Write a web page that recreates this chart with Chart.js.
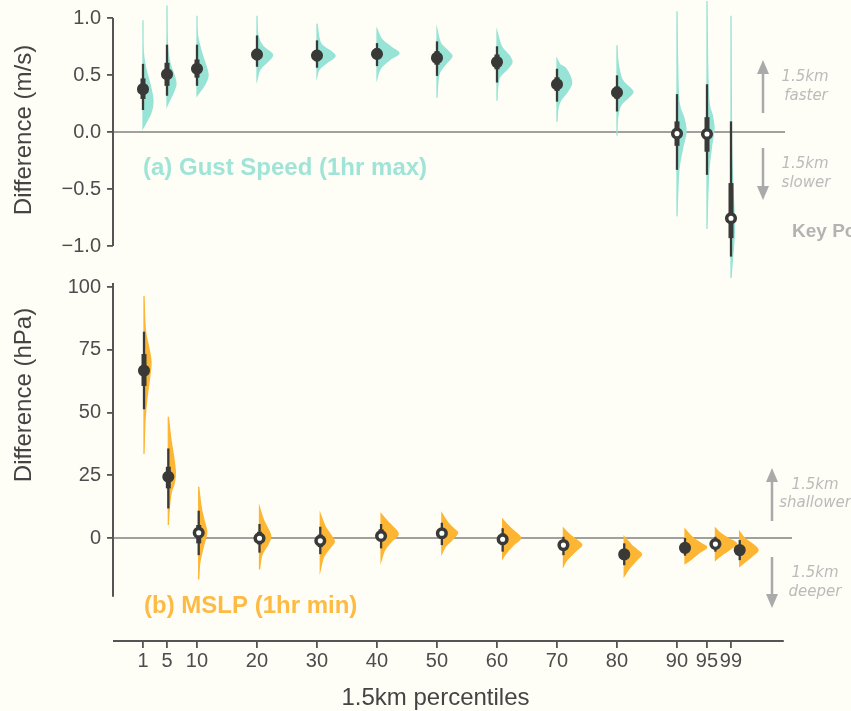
<!DOCTYPE html>
<html>
<head>
<meta charset="utf-8">
<script src="https://cdn.jsdelivr.net/npm/chart.js@4.4.1/dist/chart.umd.min.js"></script>
<style>
  html, body { margin: 0; padding: 0; background: #fefef6; }
  #wrap { position: relative; width: 851px; height: 711px; overflow: hidden; }
  #wrap canvas { position: absolute; left: 0; top: 0; }
</style>
</head>
<body>
<div id="wrap">
  <canvas id="gustChart" width="851" height="711"></canvas>
  <canvas id="mslpChart" width="851" height="711"></canvas>
</div>
<script>
// ---------------- datos ----------------
const percentiles = [1, 5, 10, 20, 30, 40, 50, 60, 70, 80, 90, 95, 99];
const gustTicks = [-1, -0.5, 0, 0.5, 1];
const mslpTicks = [0, 25, 50, 75, 100];

// (a) Gust speed: punto, intervalo 66% y 95%, significativo o no
const gustMid = [0.376, 0.506, 0.555, 0.679, 0.671, 0.685, 0.65, 0.613, 0.419, 0.347, -0.014, -0.017, -0.757];
const gustInner = [[0.29, 0.47], [0.405, 0.607], [0.477, 0.636], [0.63, 0.73], [0.62, 0.72], [0.64, 0.73], [0.59, 0.71],
  [0.55, 0.68], [0.36, 0.48], [0.29, 0.40], [-0.121, 0.093], [-0.173, 0.13], [-0.931, -0.448]];
const gustOuter = [[0.193, 0.598], [0.318, 0.766], [0.405, 0.766], [0.572, 0.847], [0.564, 0.804], [0.578, 0.78], [0.492, 0.795],
  [0.434, 0.752], [0.266, 0.555], [0.18, 0.497], [-0.332, 0.332], [-0.376, 0.419], [-1.093, 0.093]];
const gustSignificant = [1, 1, 1, 1, 1, 1, 1, 1, 1, 1, 0, 0, 0];
// densidad (valor, densidad relativa)
const gustDensity = [
  [[0.98, 0], [0.70, 0.3], [0.55, 3], [0.40, 7.5], [0.27, 10], [0.17, 8], [0.10, 4], [0.035, 0]],
  [[1.11, 0], [0.75, 0.5], [0.60, 3], [0.50, 7], [0.42, 9], [0.34, 6], [0.27, 2], [0.23, 0]],
  [[1.02, 0], [0.85, 0.5], [0.70, 4.5], [0.55, 10], [0.49, 11], [0.42, 8], [0.35, 2.5], [0.32, 0]],
  [[1.02, 0], [0.84, 1], [0.75, 6], [0.68, 15.5], [0.62, 11], [0.55, 3], [0.46, 0]],
  [[0.95, 0], [0.78, 3.5], [0.71, 13.5], [0.665, 18], [0.61, 10], [0.55, 2], [0.49, 0]],
  [[0.90, 0], [0.81, 5], [0.74, 15], [0.69, 22], [0.64, 13.5], [0.56, 3.5], [0.47, 0]],
  [[0.90, 0], [0.78, 3.5], [0.71, 11], [0.665, 15], [0.61, 10], [0.52, 2.5], [0.40, 0.5], [0.30, 0]],
  [[0.88, 0], [0.75, 4.5], [0.665, 12.5], [0.61, 15], [0.55, 10], [0.48, 2.5], [0.38, 0.5], [0.275, 0]],
  [[0.64, 0], [0.59, 3], [0.56, 8.5], [0.48, 13.5], [0.42, 14.5], [0.35, 10], [0.275, 3.5], [0.20, 0.8], [0.09, 0]],
  [[0.76, 0], [0.61, 1], [0.46, 5], [0.39, 12.5], [0.35, 16], [0.30, 11], [0.23, 3.5], [0.12, 0.5], [-0.03, 0]],
  [[1.06, 0], [0.60, 0.6], [0.26, 2], [0.12, 7], [0.0, 9], [-0.145, 5.5], [-0.32, 2], [-0.55, 0.6], [-0.74, 0]],
  [[1.15, 0], [0.60, 0.6], [0.26, 2], [0.145, 5.3], [0.03, 7], [-0.115, 4.7], [-0.32, 2], [-0.60, 0.6], [-0.85, 0]],
  [[1.02, 0], [0.0, 0.5], [-0.4, 1.5], [-0.6, 2.5], [-0.8, 3.5], [-0.95, 3], [-1.1, 1.5], [-1.28, 0]]
];

// (b) MSLP
const mslpMid = [66.7, 24.4, 2.1, -0.1, -1.1, 0.8, 1.9, -0.5, -2.8, -6.5, -3.9, -2.4, -4.8];
const mslpInner = [[60.6, 73.3], [19.8, 28.4], [-2.1, 5.2], [-2.5, 2.5], [-3.6, 1.4], [-1.2, 3.5], [-0.2, 4],
  [-2.8, 1.8], [-4.6, -1], [-8.5, -4.5], [-5.8, -2], [-4, -0.8], [-6.6, -3]];
const mslpOuter = [[51.3, 82.2], [11.8, 35.7], [-6.8, 10.9], [-5.8, 5.6], [-6.4, 4.5], [-4.1, 5.6], [-2.8, 6.1],
  [-5.4, 3.9], [-6.8, 0.5], [-10.8, -2.1], [-7, 0], [-5.4, 0.5], [-8.8, -0.8]];
const mslpSignificant = [1, 1, 0, 0, 0, 0, 0, 0, 0, 1, 1, 0, 1];
const mslpDensity = [
  [[96.4, 0], [83, 1.3], [76, 4.7], [70, 7], [63, 5.3], [56, 3], [47, 1], [33.5, 0]],
  [[48.3, 0], [39, 2.7], [32.4, 5.3], [26.4, 7], [22, 6], [17.8, 2.7], [11, 0.8], [5.2, 0]],
  [[20.4, 0], [15, 1.5], [11, 3], [6, 6], [2, 8], [-3.5, 4.5], [-10, 1], [-16.5, 0]],
  [[12.2, 0], [7.2, 4], [3.2, 9], [0.5, 11.3], [-2.8, 8], [-6.8, 2.3], [-12.5, 0]],
  [[9.6, 0], [4.5, 5], [0.5, 11.7], [-1.5, 14], [-4.1, 9.3], [-7.4, 3.3], [-12.7, 0]],
  [[9.6, 0], [5.8, 8.5], [3.2, 15], [1.2, 17], [-1.5, 10], [-4.8, 3.5], [-9, 0]],
  [[9.8, 0], [5.8, 6.7], [3.2, 13.3], [1.9, 15.7], [-0.8, 10], [-3.5, 3.3], [-6.1, 0]],
  [[7.4, 0], [4.5, 6.7], [1.9, 14], [-0.1, 18], [-2.8, 10.7], [-6.1, 3.3], [-8.1, 0]],
  [[3.9, 0], [1.2, 6.7], [-0.8, 13.3], [-2.8, 18.3], [-5.4, 11.7], [-8.8, 3.3], [-11.2, 0]],
  [[0.5, 0], [-2.8, 7.3], [-4.8, 13], [-6.5, 17.3], [-8.8, 12.3], [-12.1, 5], [-15.1, 0]],
  [[3.5, 0], [0.5, 6.7], [-1.9, 15], [-3.7, 21.7], [-6.1, 13.3], [-8.8, 5], [-10.1, 0]],
  [[3.9, 0], [1.9, 5], [-0.1, 12.7], [-2.1, 21], [-4.1, 16], [-6.8, 6], [-8.8, 0]],
  [[2.5, 0], [-0.1, 5], [-2.4, 12.7], [-4.8, 18.3], [-7.4, 11.7], [-10.1, 3.3], [-11.2, 0]]
];

// ---------------- estilos ----------------
const DARK = '#393937';
const TEAL = '#97e3d5';
const ORANGE = '#fdb633';
const SANS = '"Liberation Sans", Arial, sans-serif';
Chart.defaults.font.family = SANS;

function splinePath(ctx, pts) {
  ctx.moveTo(pts[0][0], pts[0][1]);
  for (let i = 0; i < pts.length - 1; i++) {
    const p0 = pts[i - 1] || pts[i], p1 = pts[i], p2 = pts[i + 1], p3 = pts[i + 2] || p2;
    ctx.bezierCurveTo(
      p1[0] + (p2[0] - p0[0]) / 6, p1[1] + (p2[1] - p0[1]) / 6,
      p2[0] - (p3[0] - p1[0]) / 6, p2[1] - (p3[1] - p1[1]) / 6,
      p2[0], p2[1]);
  }
}

function arrow(ctx, x, yFrom, yTo) {
  const dir = yTo < yFrom ? -1 : 1;
  ctx.beginPath();
  ctx.moveTo(x, yFrom);
  ctx.lineTo(x, yTo - dir * 10);
  ctx.stroke();
  ctx.beginPath();
  ctx.moveTo(x, yTo);
  ctx.lineTo(x - 6, yTo - dir * 14);
  ctx.lineTo(x + 6, yTo - dir * 14);
  ctx.closePath();
  ctx.fill();
}

// plugin: media-violin (half eye) + intervalos + ejes
const halfEye = {
  id: 'halfEye',
  beforeDatasetsDraw(chart, args, o) {
    const {ctx, chartArea} = chart;
    const xs = chart.scales[o.xAxis], ys = chart.scales.y;
    ctx.save();
    // linea del cero
    const y0 = ys.getPixelForValue(0);
    ctx.strokeStyle = '#808080';
    ctx.lineWidth = 1.6;
    ctx.beginPath();
    ctx.moveTo(chartArea.left, y0);
    ctx.lineTo(chartArea.right, y0);
    ctx.stroke();
    // densidades
    ctx.fillStyle = o.color;
    ctx.strokeStyle = o.color;
    ctx.lineWidth = 1.3;
    o.density.forEach((prof, i) => {
      const cx = xs.getPixelForValue(percentiles[i]);
      const pts = prof.map(([v, d]) => [cx + d * o.slabScale, ys.getPixelForValue(v)]);
      ctx.beginPath();
      splinePath(ctx, pts);
      ctx.lineTo(cx, pts[0][1]);
      ctx.closePath();
      ctx.fill();
      ctx.stroke();
    });
    // intervalos
    ctx.strokeStyle = DARK;
    ctx.lineCap = 'butt';
    percentiles.forEach((p, i) => {
      const cx = xs.getPixelForValue(p);
      ctx.lineWidth = 2.3;
      ctx.beginPath();
      ctx.moveTo(cx, ys.getPixelForValue(o.outer[i][0]));
      ctx.lineTo(cx, ys.getPixelForValue(o.outer[i][1]));
      ctx.stroke();
      ctx.lineWidth = 5;
      ctx.beginPath();
      ctx.moveTo(cx, ys.getPixelForValue(o.inner[i][0]));
      ctx.lineTo(cx, ys.getPixelForValue(o.inner[i][1]));
      ctx.stroke();
    });
    // eje y
    ctx.strokeStyle = '#555';
    ctx.lineWidth = 2;
    ctx.beginPath();
    ctx.moveTo(chartArea.left, ys.getPixelForValue(o.axisRange[0]));
    ctx.lineTo(chartArea.left, ys.getPixelForValue(o.axisRange[1]));
    ctx.stroke();
    ctx.restore();
  },
  afterDraw(chart, args, o) {
    const {ctx} = chart;
    ctx.save();
    ctx.textAlign = 'center';
    ctx.textBaseline = 'middle';
    // titulo del eje y
    ctx.fillStyle = '#444';
    ctx.font = '24px ' + SANS;
    ctx.save();
    ctx.translate(o.yTitle.x, o.yTitle.y);
    ctx.rotate(-Math.PI / 2);
    ctx.fillText(o.yTitle.text, 0, 0);
    ctx.restore();
    // etiqueta del panel
    ctx.textAlign = 'left';
    ctx.fillStyle = o.labelColor;
    ctx.font = 'bold 24px ' + SANS;
    ctx.fillText(o.label.text, o.label.x, o.label.y);
    // flechas de interpretacion
    ctx.fillStyle = '#aaaaaa';
    ctx.strokeStyle = '#aaaaaa';
    ctx.lineWidth = 2.5;
    o.arrows.forEach(a => arrow(ctx, a.x, a.from, a.to));
    ctx.fillStyle = '#bbbbbb';
    ctx.textAlign = 'center';
    ctx.font = 'italic 15px "DejaVu Sans", sans-serif';
    o.notes.forEach(n => ctx.fillText(n.text, n.x, n.y));
    o.extra(ctx, chart);
    ctx.restore();
  }
};

function pointStyle(sig) {
  return {
    pointRadius: 4.3,
    pointHoverRadius: 4.3,
    pointBorderWidth: 3.5,
    pointBorderColor: DARK,
    pointBackgroundColor: c => sig[c.dataIndex] ? DARK : '#ffffff'
  };
}

const tickFont = {size: 20};

// ---------------- (a) rafagas ----------------
new Chart(document.getElementById('gustChart'), {
  type: 'scatter',
  data: {
    datasets: [{
      data: percentiles.map((p, i) => ({x: p, y: gustMid[i]})),
      ...pointStyle(gustSignificant),
      clip: false
    }]
  },
  options: {
    responsive: false,
    animation: false,
    events: [],
    layout: {padding: {left: 0, right: 66, top: 14.7, bottom: 465}},
    plugins: {
      legend: {display: false},
      tooltip: {enabled: false},
      halfEye: {
        xAxis: 'x', color: TEAL, slabScale: 1,
        density: gustDensity, inner: gustInner, outer: gustOuter,
        axisRange: [-1, 1],
        yTitle: {text: 'Difference (m/s)', x: 24, y: 130},
        label: {text: '(a) Gust Speed (1hr max)', x: 143, y: 168}, labelColor: '#a0e4d7',
        arrows: [{x: 763, from: 113, to: 60}, {x: 763, from: 148, to: 200}],
        notes: [{text: '1.5km', x: 805, y: 77}, {text: 'faster', x: 806, y: 96},
                {text: '1.5km', x: 805, y: 164}, {text: 'slower', x: 806, y: 183}],
        extra: (ctx) => {
          ctx.textAlign = 'left';
          ctx.fillStyle = '#b3b3b3';
          ctx.font = 'bold 19px ' + SANS;
          ctx.fillText('Key Points', 792, 232);
        }
      }
    },
    scales: {
      x: {type: 'linear', display: false, min: -4, max: 108},
      y: {
        min: -1, max: 1,
        afterFit: s => { s.width = 113; },
        afterBuildTicks: s => { s.ticks = gustTicks.map(v => ({value: v})); },
        border: {display: false},
        grid: {drawOnChartArea: false, tickLength: 6, color: '#555', lineWidth: 1.8},
        ticks: {
          padding: 6, color: '#4d4d4d', font: tickFont,
          callback: v => (v < 0 ? '\u2212' : '') + Math.abs(v).toFixed(1)
        }
      }
    }
  },
  plugins: [halfEye]
});

// ---------------- (b) presion ----------------
new Chart(document.getElementById('mslpChart'), {
  type: 'scatter',
  data: {
    datasets: [{
      xAxisID: 'x',
      data: percentiles.map((p, i) => ({x: p, y: mslpMid[i]})),
      ...pointStyle(mslpSignificant),
      clip: false
    }]
  },
  options: {
    responsive: false,
    animation: false,
    events: [],
    layout: {padding: {left: 0, right: 59, top: 283, bottom: 0}},
    plugins: {
      legend: {display: false},
      tooltip: {enabled: false},
      halfEye: {
        xAxis: 'x', color: ORANGE, slabScale: 1,
        density: mslpDensity, inner: mslpInner, outer: mslpOuter,
        axisRange: [-23.4, 101.6],
        yTitle: {text: 'Difference (hPa)', x: 24, y: 395},
        label: {text: '(b) MSLP (1hr min)', x: 144, y: 606}, labelColor: '#fdbb44',
        arrows: [{x: 772, from: 521, to: 468}, {x: 772, from: 557, to: 608}],
        notes: [{text: '1.5km', x: 815, y: 485}, {text: 'shallower', x: 815, y: 503},
                {text: '1.5km', x: 815, y: 573}, {text: 'deeper', x: 815, y: 592}],
        extra: (ctx, chart) => {
          const xt = chart.scales.xt;
          // eje x
          ctx.strokeStyle = '#555';
          ctx.lineWidth = 2;
          ctx.beginPath();
          ctx.moveTo(chart.chartArea.left, chart.chartArea.bottom);
          ctx.lineTo(xt.getPixelForValue(107.8), chart.chartArea.bottom);
          ctx.stroke();
          ctx.fillStyle = '#444';
          ctx.textAlign = 'center';
          ctx.font = '24px ' + SANS;
          ctx.fillText('1.5km percentiles', 435.5, 698);
        }
      }
    },
    scales: {
      x: {type: 'linear', display: false, min: -4.1, max: 107.6},
      xt: {
        type: 'linear', position: 'bottom', min: -4, max: 109.17,
        afterFit: s => { s.height = 70; },
        afterBuildTicks: s => { s.ticks = percentiles.map(v => ({value: v})); },
        border: {display: false},
        grid: {drawOnChartArea: false, tickLength: 7, color: '#555', lineWidth: 1.8},
        ticks: {padding: 1, color: '#4d4d4d', font: tickFont, autoSkip: false, maxRotation: 0, minRotation: 0}
      },
      y: {
        min: -41, max: 101.6,
        afterFit: s => { s.width = 113; },
        afterBuildTicks: s => { s.ticks = mslpTicks.map(v => ({value: v})); },
        border: {display: false},
        grid: {drawOnChartArea: false, tickLength: 6, color: '#555', lineWidth: 1.8},
        ticks: {padding: 6, color: '#4d4d4d', font: tickFont}
      }
    }
  },
  plugins: [halfEye]
});
</script>
</body>
</html>
